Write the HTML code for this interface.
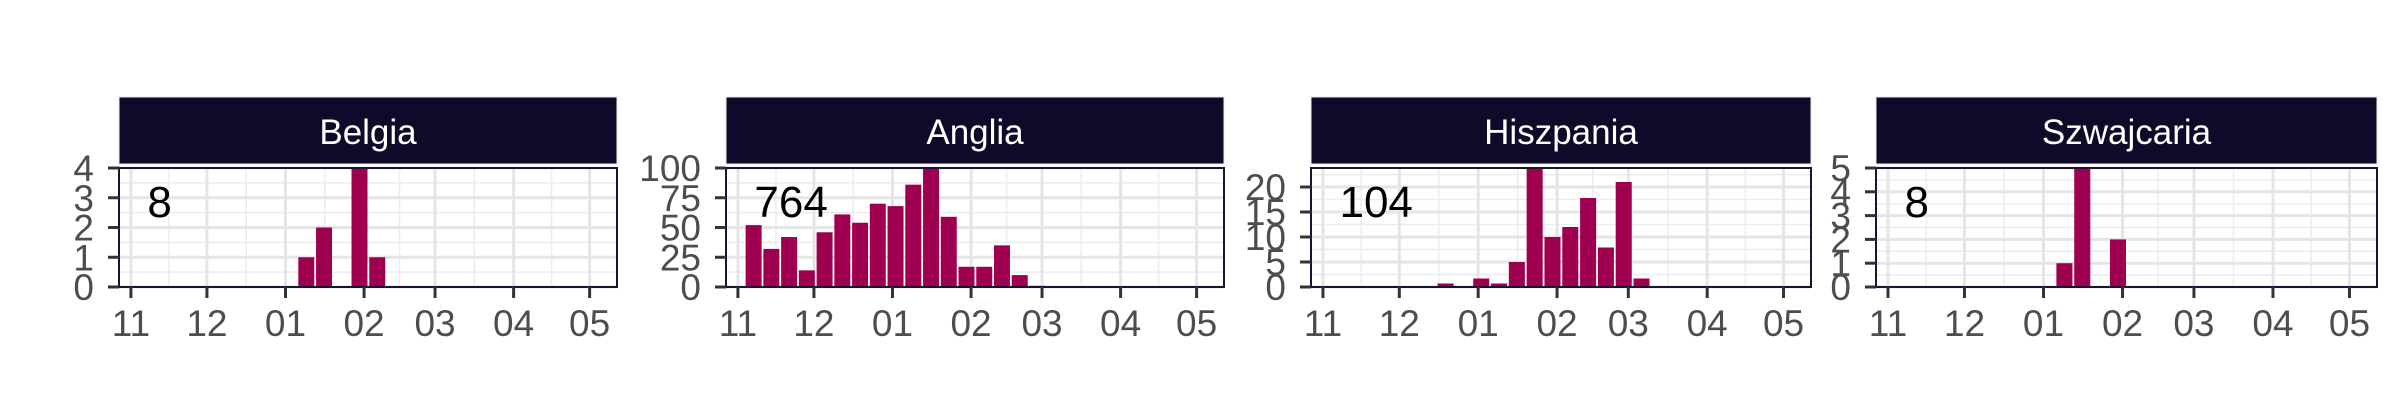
<!DOCTYPE html>
<html><head><meta charset="utf-8"><style>
html,body{margin:0;padding:0;background:#fff;}
svg{display:block;font-family:"Liberation Sans",Arial,sans-serif;}
</style></head><body>
<svg id="chart" width="2400" height="420" viewBox="0 0 2400 420" xmlns="http://www.w3.org/2000/svg">
<rect x="0" y="0" width="2400" height="420" fill="#fff"/>
</svg>
<script>
// Data (weeks are indices counted from the first week of November; values are weekly counts)
const panelNames = ["Belgia", "Anglia", "Hiszpania", "Szwajcaria"];
const totals = ["8", "764", "104", "8"];
const belgiaWeeks = [9, 10, 12, 13];
const belgiaValues = [1, 2, 4, 1];
const angliaWeeks = [0,1,2,3,4,5,6,7,8,9,10,11,12,13,14,15,16];
const angliaValues = [52,32,42,14,46,61,54,70,68,86,100,59,17,17,35,10,1];
const hiszpaniaWeeks = [6,8,9,10,11,12,13,14,15,16,17];
const hiszpaniaValues = [0.7,1.7,0.7,5,23.8,10,12,17.8,7.9,21,1.7];
const szwajcariaWeeks = [9, 10, 12];
const szwajcariaValues = [1, 5, 2];
const belgiaYTicks = [0,1,2,3,4];
const angliaYTicks = [0,25,50,75,100];
const hiszpaniaYTicks = [0,5,10,15,20];
const szwajcariaYTicks = [0,1,2,3,4,5];
const monthLabels = ["11","12","01","02","03","04","05"];
const monthDays = [0,30,61,92,120,151,181];

const svg = document.getElementById('chart');
const NS = 'http://www.w3.org/2000/svg';
function mk(tag, attrs, parent){
  const e = document.createElementNS(NS, tag);
  for (const k in attrs) e.setAttribute(k, attrs[k]);
  parent.appendChild(e);
  return e;
}
const layouts = [{l:119,r:617},{l:726,r:1224},{l:1311,r:1811},{l:1876,r:2377}];
const weeksAll = [belgiaWeeks, angliaWeeks, hiszpaniaWeeks, szwajcariaWeeks];
const valsAll = [belgiaValues, angliaValues, hiszpaniaValues, szwajcariaValues];
const yTicksAll = [belgiaYTicks, angliaYTicks, hiszpaniaYTicks, szwajcariaYTicks];
const D0 = -4.7, D1 = 191.8;
const PT = 168, PB = 287, ST = 97, SB = 164;

for (let p = 0; p < 4; p++) {
  const L = layouts[p].l, R = layouts[p].r;
  const g = mk('g', {}, svg);
  
  
  const xs = d => L + (d - D0) / (D1 - D0) * (R - L);
  const vals = valsAll[p], weeks = weeksAll[p], yt = yTicksAll[p];
  const ymax = Math.max(...vals, yt[yt.length-1]);
  const ys = v => PB - v / ymax * (PB - PT);

  const strip = mk('rect', {x:L, y:ST, width:R-L, height:SB-ST, fill:'#0e0a2a', stroke:'#e8e8ee', 'stroke-width':1}, g);
  
  
  const st = mk('text', {x:(L+R)/2, y:144, 'text-anchor':'middle', fill:'#fff', 'font-size':35}, g);
  st.textContent = panelNames[p];
  
  

  mk('rect', {x:L, y:PT, width:R-L, height:PB-PT, fill:'#fff'}, g);
  const grid = mk('g', {}, g);
  
  
  for (let i = 0; i < monthDays.length - 1; i++) {
    const x = xs((monthDays[i] + monthDays[i+1]) / 2);
    mk('line', {x1:x, x2:x, y1:PT, y2:PB, stroke:'#ececec', 'stroke-width':1.5}, grid);
  }
  for (let i = 0; i < yt.length; i++) {
    const a = yt[i], b = (i+1 < yt.length) ? yt[i+1] : yt[i] + (yt[1]-yt[0]);
    const y = ys((a + b) / 2);
    if (y >= PT) mk('line', {x1:L, x2:R, y1:y, y2:y, stroke:'#ececec', 'stroke-width':1.5}, grid);
  }
  monthDays.forEach(d => { const x = xs(d); mk('line', {x1:x, x2:x, y1:PT, y2:PB, stroke:'#e5e5e5', 'stroke-width':3}, grid); });
  yt.forEach(v => { const y = ys(v); mk('line', {x1:L, x2:R, y1:y, y2:y, stroke:'#e5e5e5', 'stroke-width':3}, grid); });

  const bw = 7 * 0.9;
  for (let i = 0; i < vals.length; i++) {
    const c = 6.2 + 7 * weeks[i];
    const x0 = xs(c - bw/2), x1 = xs(c + bw/2);
    const b = mk('rect', {x:x0, y:ys(vals[i]), width:x1-x0, height:PB-ys(vals[i]), fill:'#9e004f'}, g);
    
    
  }
  const tt = mk('text', {x:xs(6.5), y:217, fill:'#000', 'font-size':44}, g);
  tt.textContent = totals[p];
  
  

  mk('rect', {x:L, y:PT, width:R-L, height:PB-PT, fill:'none', stroke:'#1a1433', 'stroke-width':2}, g);

  yt.forEach(v => {
    const y = ys(v);
    mk('line', {x1:L-11, x2:L, y1:y, y2:y, stroke:'#333', 'stroke-width':3}, g);
    const t = mk('text', {x:L-25, y:y+13, 'text-anchor':'end', fill:'#4d4d4d', 'font-size':37}, g);
    t.textContent = v;
    
    
  });
  monthDays.forEach((d, i) => {
    const x = xs(d);
    mk('line', {x1:x, x2:x, y1:PB, y2:PB+11, stroke:'#333', 'stroke-width':3}, g);
    const t = mk('text', {x:x, y:336, 'text-anchor':'middle', fill:'#4d4d4d', 'font-size':37}, g);
    t.textContent = monthLabels[i];
    
    
  });
}
</script>
</body></html>
